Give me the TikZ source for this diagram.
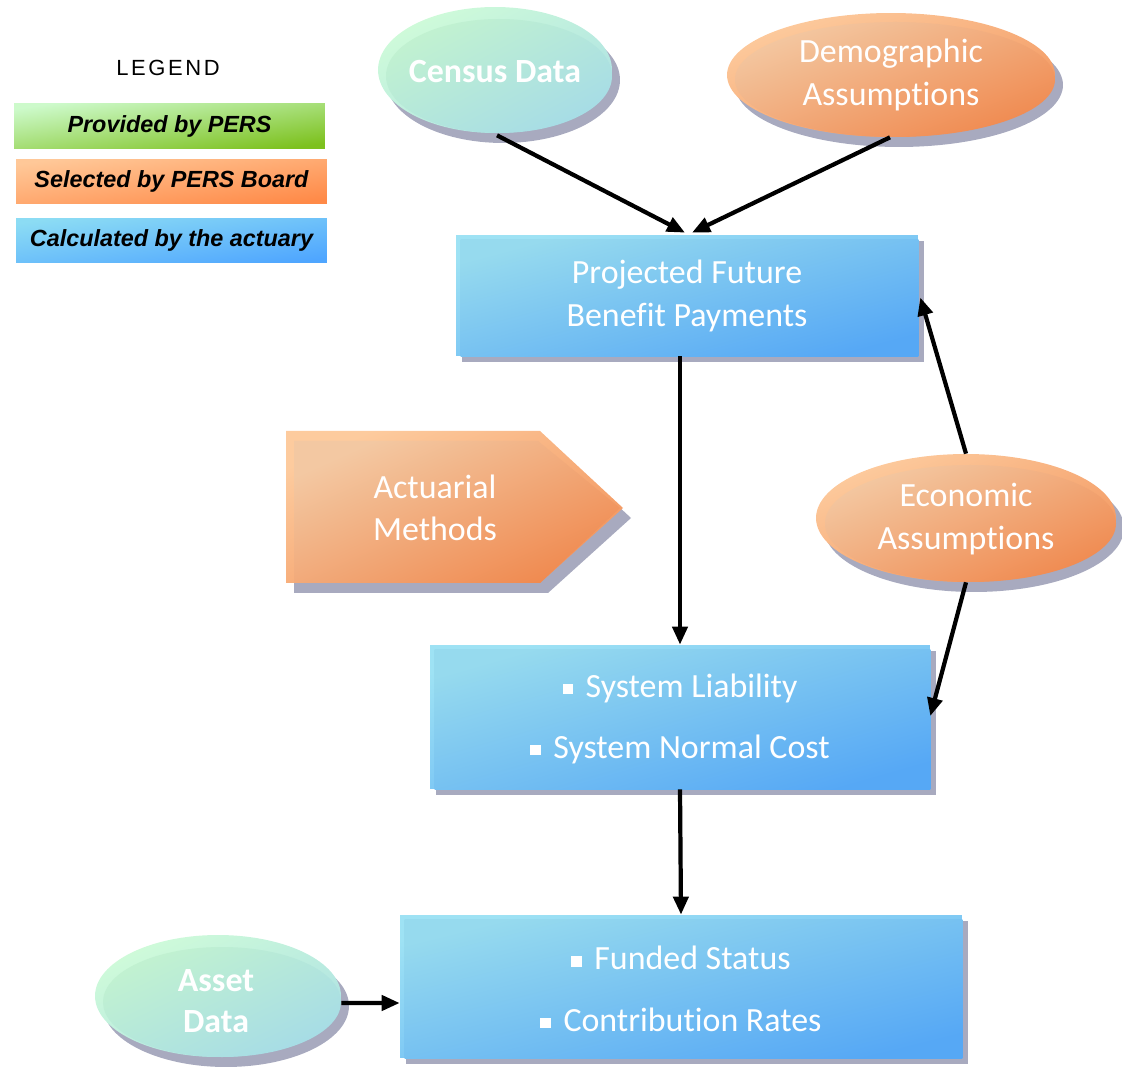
\documentclass[tikz,border=0pt]{standalone}
\usepackage{fontspec}
\setmainfont[Ligatures=NoCommon]{Carlito}
\newfontfamily\legfont{Liberation Sans}
\usetikzlibrary{shapes.geometric,shadows,arrows.meta,calc}
\definecolor{shadowc}{HTML}{A8AABF}
\definecolor{grimc}{HTML}{CFFBD9}
\definecolor{gtl}{HTML}{C2F2D0}
\definecolor{gbr}{HTML}{A6DCE6}
\definecolor{lgtl}{HTML}{CDFACB}
\definecolor{lgbr}{HTML}{7DC11E}
\definecolor{orimc}{HTML}{FDCB9E}
\definecolor{otl}{HTML}{F3C8A2}
\definecolor{obr}{HTML}{F08A50}
\definecolor{lotl}{HTML}{FFC898}
\definecolor{lobr}{HTML}{FF8A48}
\definecolor{brimc}{HTML}{9EE2F4}
\definecolor{btl}{HTML}{96DAEE}
\definecolor{bbr}{HTML}{56A8F5}
\definecolor{lbtl}{HTML}{8CDCF4}
\definecolor{lbbr}{HTML}{4FA6FF}
\newcommand\sqbul{\rule[0.1em]{0.3em}{0.3em}\hspace{0.38em}}
\begin{document}
\begin{tikzpicture}[x=0.02cm,y=-0.02cm,
  shadowed/.style={drop shadow={shadow xshift=0.16cm,shadow yshift=-0.2cm,fill=shadowc,opacity=1}},
  boxshadowed/.style={drop shadow={shadow xshift=0.12cm,shadow yshift=-0.12cm,fill=shadowc,opacity=1}},
  gshade/.style={shading=axis,top color=gtl,bottom color=gbr,shading angle=#1},
  grim/.style={shading=axis,top color=grimc,bottom color=gbr!85!grimc,shading angle=#1},
  oshade/.style={shading=axis,top color=otl,bottom color=obr,shading angle=#1},
  orim/.style={shading=axis,top color=orimc,bottom color=obr!85!orimc,shading angle=#1},
  bshade/.style={shading=axis,top color=btl,bottom color=bbr,shading angle=#1},
  brim/.style={shading=axis,top color=brimc,bottom color=bbr!85!brimc,shading angle=#1},
  oval/.style={ellipse,inner sep=0pt},
  boxn/.style={rectangle,inner sep=0pt,boxshadowed},
  wtext/.style={text=white,align=center,font=\fontsize{19.3}{24}\selectfont},
  btext/.style={text=white,align=center,font=\fontsize{19.3}{35}\selectfont},
  legbox/.style={rectangle,inner sep=0pt,minimum width=6.22cm,minimum height=0.89cm,
     font=\legfont\fontsize{13.3}{16}\selectfont\bfseries\itshape},
  arr/.style={line width=2.4pt,-{Triangle[length=0.36cm,width=0.3cm]}}]
\useasboundingbox (0,0) rectangle (1122,1070);

% Legend
\node[font=\legfont\fontsize{12.5}{15}\selectfont\addfontfeatures{LetterSpace=12}] (legend) at (168,68) {LEGEND};
\node[legbox,shading=axis,top color=lgtl,bottom color=lgbr,shading angle=8] (l1) at (169.5,126) {Provided by PERS};
\node[legbox,shading=axis,top color=lotl,bottom color=lobr,shading angle=8] (l2) at (171.5,181.5) {Selected by PERS Board};
\node[legbox,shading=axis,top color=lbtl,bottom color=lbbr,shading angle=8] (l3) at (171.5,240.5) {Calculated by the actuary};

% Census Data
\node[oval,minimum width=4.68cm,minimum height=2.52cm,shadowed,grim=28] (census) at (495,70) {};
\shade[gshade=28] (499,76) ellipse [x radius=113,y radius=57];
\node[wtext,font=\fontsize{19.3}{24}\selectfont\bfseries] (censust) at (495,72) {Census Data};

% Demographic Assumptions
\node[oval,minimum width=6.56cm,minimum height=2.48cm,shadowed,orim=21] (demo) at (891,75) {};
\shade[oshade=21] (895,79.5) ellipse [x radius=160,y radius=57.5];
\node[wtext] (demot) at (891,75) {Demographic\\Assumptions};

% Projected Future Benefit Payments
\node[boxn,brim=15,minimum width=9.24cm,minimum height=2.42cm] (proj) at (687,295.5) {};
\shade[bshade=15] ($(proj.north west)+(5,5)$) rectangle (proj.south east);
\node[wtext] (projt) at (687,296) {Projected Future\\Benefit Payments};

% Actuarial Methods
\fill[shadowc] (294,441) -- (548,441) -- (631,518) -- (548,593) -- (294,593) -- cycle;
\shade[orim=24] (286,431) -- (540,431) -- (623,508) -- (540,583) -- (286,583) -- cycle;
\shade[oshade=24] (294,441) -- (538,441) -- (620,508) -- (540,583) -- (294,583) -- cycle;
\node[wtext] (actt) at (435,508) {Actuarial\\Methods};

% Economic Assumptions
\node[oval,minimum width=6.0cm,minimum height=2.56cm,shadowed,orim=23] (econ) at (966,518) {};
\shade[oshade=23] (970.5,523.5) ellipse [x radius=145.5,y radius=58.5];
\node[wtext] (econt) at (966,519) {Economic\\Assumptions};

% System box
\node[boxn,brim=16,minimum width=10.0cm,minimum height=2.88cm] (sys) at (680,717) {};
\shade[bshade=16] ($(sys.north west)+(5,5)$) rectangle (sys.south east);
\node[btext] (syst) at (680,719) {\sqbul System Liability\\\sqbul System Normal Cost};

% Funded box
\node[boxn,brim=14,minimum width=11.24cm,minimum height=2.86cm] (fund) at (681,986.5) {};
\shade[bshade=14] ($(fund.north west)+(5,5)$) rectangle (fund.south east);
\node[btext] (fundt) at (681,989) {\sqbul Funded Status\\\sqbul Contribution Rates};

% Asset Data
\node[oval,minimum width=4.92cm,minimum height=2.44cm,shadowed,grim=26] (asset) at (218,996) {};
\shade[gshade=26] (222,1002) ellipse [x radius=119,y radius=55];
\node[wtext,font=\fontsize{19.3}{23.2}\selectfont\bfseries] (assett) at (216,1001) {Asset\\Data};

% Connectors
\draw[arr] ($(census.south)+(2,2)$) -- ($(proj.north)+(-2,-2)$);
\draw[arr] ($(demo.south)+(-1,0)$) -- ($(proj.north)+(5,-2)$);
\draw[arr] (sys.north |- proj.south) -- (sys.north);
\draw[arr] (econ.north) -- ($(proj.east)+(2,2)$);
\draw[arr] (econ.south) -- ($(sys.east)+(0,-1)$);
\draw[arr] (sys.south) -- (fund.north);
\draw[arr] ($(asset.east)+(0,7)$) -- ($(fund.west)+(0,16.5)$);
\end{tikzpicture}
\end{document}
